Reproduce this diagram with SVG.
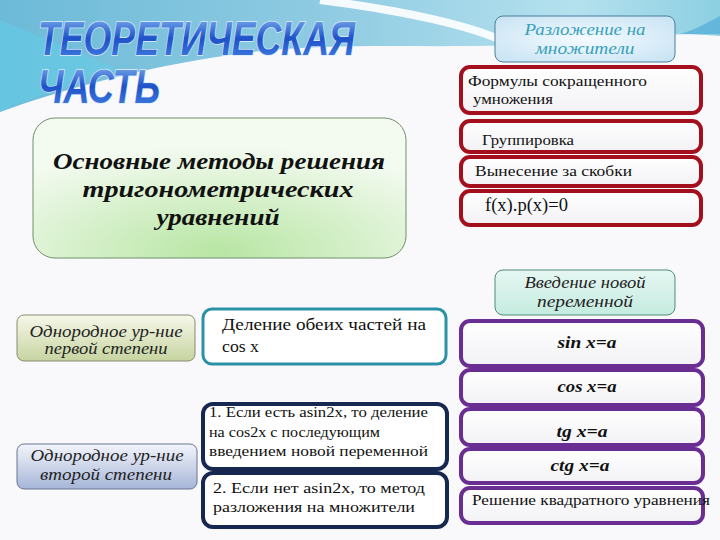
<svg xmlns="http://www.w3.org/2000/svg" width="720" height="540" viewBox="0 0 720 540">
<defs>
<linearGradient id="bandG" x1="0" y1="0" x2="1" y2="0">
<stop offset="0" stop-color="#6cbad8"/><stop offset="0.45" stop-color="#8fcbe2"/><stop offset="0.8" stop-color="#b5e1ee"/><stop offset="1" stop-color="#8ccfe2"/>
</linearGradient>
<linearGradient id="titleG" x1="0" y1="0" x2="0" y2="1">
<stop offset="0" stop-color="#8ec0f4"/><stop offset="0.5" stop-color="#1e52c8"/><stop offset="1" stop-color="#4a86e4"/>
</linearGradient>
<radialGradient id="mainG" cx="0.5" cy="0.95" r="0.75">
<stop offset="0" stop-color="#b8e6a4"/><stop offset="1" stop-color="#f3faf0"/>
</radialGradient>
<radialGradient id="razG" cx="0.5" cy="0.5" r="0.7">
<stop offset="0" stop-color="#f4fbff"/><stop offset="1" stop-color="#c6e2f3"/>
</radialGradient>
<linearGradient id="vvG" x1="0" y1="0" x2="0" y2="1">
<stop offset="0" stop-color="#e6f7f2"/><stop offset="1" stop-color="#c4ebdf"/>
</linearGradient>
<linearGradient id="lgG" x1="0" y1="0" x2="0" y2="1">
<stop offset="0" stop-color="#f7f8ea"/><stop offset="1" stop-color="#c6d4a0"/>
</linearGradient>
<linearGradient id="lbG" x1="0" y1="0" x2="0" y2="1">
<stop offset="0" stop-color="#f3f5fb"/><stop offset="1" stop-color="#a6b5d8"/>
</linearGradient>
<linearGradient id="wG" x1="0" y1="0" x2="0" y2="1">
<stop offset="0" stop-color="#ffffff"/><stop offset="1" stop-color="#f2f2f6"/>
</linearGradient>
</defs>
<style>
.t{font-family:"Liberation Serif","Times New Roman",serif;fill:#111;}
.ti{font-family:"Liberation Serif","Times New Roman",serif;font-style:italic;fill:#222;}
.tb{font-family:"Liberation Serif","Times New Roman",serif;font-style:italic;font-weight:bold;fill:#111;}
.title{font-family:"Liberation Sans",Arial,sans-serif;font-weight:bold;font-style:italic;fill:url(#titleG);stroke:#dcecff;stroke-width:1.5;paint-order:stroke;}
.red{fill:url(#wG);stroke:#a30f1c;stroke-width:4;}
.pur{fill:url(#wG);stroke:#6a2d92;stroke-width:4;}
.teal{fill:#ffffff;stroke:#2a92a6;stroke-width:3;}
.navy{fill:#ffffff;stroke:#172850;stroke-width:4;}
</style>
<rect width="720" height="540" fill="#f9f9fc"/>
<path d="M0,0 H720 V36 C660,30 600,40 540,44 C430,50 330,40 230,55 C140,68 60,90 0,112 Z" fill="url(#bandG)"/>
<path d="M320,0 C400,10 470,25 505,42" fill="none" stroke="#ffffff" stroke-width="8" opacity="0.9"/>
<path d="M0,20 L0,112 C40,96 80,80 120,70 L60,45 Z" fill="#5fd0ea" opacity="0.5"/>
<path d="M680,34 C700,28 712,20 720,16 V34 Z" fill="#4aa6d6" opacity="0.6"/>
<g id="title">
<text class="title" x="38" y="55" font-size="48" textLength="317" lengthAdjust="spacingAndGlyphs">ТЕОРЕТИЧЕСКАЯ</text>
<text class="title" x="38" y="103" font-size="48" textLength="122" lengthAdjust="spacingAndGlyphs">ЧАСТЬ</text>
</g>
<g id="main">
<rect x="33" y="118" width="373" height="140" rx="22" fill="url(#mainG)" stroke="#6f8f6a" stroke-width="1"/>
<text class="tb" x="219" y="169" font-size="23" text-anchor="middle" textLength="332" lengthAdjust="spacingAndGlyphs">Основные методы решения</text>
<text class="tb" x="218" y="197" font-size="23" text-anchor="middle" textLength="271" lengthAdjust="spacingAndGlyphs">тригонометрических</text>
<text class="tb" x="218" y="225" font-size="23" text-anchor="middle" textLength="123" lengthAdjust="spacingAndGlyphs">уравнений</text>
</g>
<g id="razlozhenie">
<rect x="495" y="16" width="180" height="46" rx="8" fill="url(#razG)" stroke="#4a7f9a" stroke-width="1"/>
<text class="ti" x="585" y="35" font-size="16" text-anchor="middle" style="fill:#3a9fb8" textLength="121" lengthAdjust="spacingAndGlyphs">Разложение на</text>
<text class="ti" x="585" y="54" font-size="16" text-anchor="middle" style="fill:#3a9fb8" textLength="99" lengthAdjust="spacingAndGlyphs">множители</text>
</g>
<g id="formuly">
<rect class="red" x="461" y="67" width="240" height="46" rx="9"/>
<text class="t" x="468" y="86" font-size="15" textLength="179" lengthAdjust="spacingAndGlyphs">Формулы сокращенного</text>
<text class="t" x="473" y="104" font-size="15" textLength="80" lengthAdjust="spacingAndGlyphs">умножения</text>
</g>
<g id="gruppirovka">
<rect class="red" x="461" y="121" width="240" height="31" rx="9"/>
<text class="t" x="482" y="145" font-size="15" textLength="92" lengthAdjust="spacingAndGlyphs">Группировка</text>
</g>
<g id="vynesenie">
<rect class="red" x="461" y="157" width="240" height="29" rx="9"/>
<text class="t" x="475" y="176" font-size="15" textLength="157" lengthAdjust="spacingAndGlyphs">Вынесение за скобки</text>
</g>
<g id="fxpx">
<rect class="red" x="461" y="191" width="240" height="34" rx="9"/>
<text class="t" x="485" y="211" font-size="18" textLength="83" lengthAdjust="spacingAndGlyphs">f(x).p(x)=0</text>
</g>
<g id="vvedenie">
<rect x="495" y="270" width="180" height="45" rx="8" fill="url(#vvG)" stroke="#4f8a7e" stroke-width="1"/>
<text class="ti" x="585" y="288" font-size="16" text-anchor="middle" textLength="121" lengthAdjust="spacingAndGlyphs">Введение новой</text>
<text class="ti" x="585" y="307" font-size="16" text-anchor="middle" textLength="96" lengthAdjust="spacingAndGlyphs">переменной</text>
</g>
<g id="sin">
<rect class="pur" x="461" y="321" width="242" height="45" rx="9"/>
<text class="tb" x="587" y="348" font-size="16" text-anchor="middle" textLength="59" lengthAdjust="spacingAndGlyphs">sin x=a</text>
</g>
<g id="cos">
<rect class="pur" x="461" y="370" width="242" height="35" rx="9"/>
<text class="tb" x="587" y="392" font-size="16" text-anchor="middle" textLength="59" lengthAdjust="spacingAndGlyphs">cos x=a</text>
</g>
<g id="tg">
<rect class="pur" x="461" y="409" width="242" height="36" rx="9"/>
<text class="tb" x="582" y="437" font-size="16" text-anchor="middle" textLength="51" lengthAdjust="spacingAndGlyphs">tg x=a</text>
</g>
<g id="ctg">
<rect class="pur" x="461" y="449" width="242" height="34" rx="9"/>
<text class="tb" x="580" y="471" font-size="16" text-anchor="middle" textLength="59" lengthAdjust="spacingAndGlyphs">ctg x=a</text>
</g>
<g id="kvadrat">
<rect class="pur" x="461" y="488" width="242" height="35" rx="9"/>
<text class="t" x="472" y="505" font-size="15" textLength="238" lengthAdjust="spacingAndGlyphs">Решение квадратного уравнения</text>
</g>
<g id="odn1">
<rect x="17" y="315" width="178" height="46" rx="7" fill="url(#lgG)" stroke="#8a8a70" stroke-width="1"/>
<text class="ti" x="106" y="337" font-size="16" text-anchor="middle" textLength="153" lengthAdjust="spacingAndGlyphs">Однородное ур-ние</text>
<text class="ti" x="106" y="354" font-size="16" text-anchor="middle" textLength="123" lengthAdjust="spacingAndGlyphs">первой степени</text>
</g>
<g id="delenie">
<rect class="teal" x="203" y="309" width="243" height="55" rx="9"/>
<text class="t" x="222" y="330" font-size="16" textLength="204" lengthAdjust="spacingAndGlyphs">Деление обеих частей на</text>
<text class="t" x="222" y="352" font-size="16" textLength="37" lengthAdjust="spacingAndGlyphs">cos x</text>
</g>
<g id="odn2">
<rect x="17" y="444" width="180" height="45" rx="7" fill="url(#lbG)" stroke="#6a7590" stroke-width="1"/>
<text class="ti" x="107" y="461" font-size="16" text-anchor="middle" textLength="153" lengthAdjust="spacingAndGlyphs">Однородное ур-ние</text>
<text class="ti" x="106" y="480" font-size="16" text-anchor="middle" textLength="132" lengthAdjust="spacingAndGlyphs">второй степени</text>
</g>
<g id="esli1">
<rect class="navy" x="203" y="404" width="244" height="65" rx="10"/>
<text class="t" x="209" y="417" font-size="15" textLength="219" lengthAdjust="spacingAndGlyphs">1. Если есть asin2x, то деление</text>
<text class="t" x="209" y="437" font-size="15" textLength="171" lengthAdjust="spacingAndGlyphs">на cos2x с последующим</text>
<text class="t" x="209" y="456" font-size="15" textLength="219" lengthAdjust="spacingAndGlyphs">введением новой переменной</text>
</g>
<g id="esli2">
<rect class="navy" x="203" y="473" width="244" height="54" rx="10"/>
<text class="t" x="213" y="493" font-size="15" textLength="212" lengthAdjust="spacingAndGlyphs">2. Если нет asin2x, то метод</text>
<text class="t" x="213" y="512" font-size="15" textLength="202" lengthAdjust="spacingAndGlyphs">разложения на множители</text>
</g>
<g id="connectors"/>
</svg>
